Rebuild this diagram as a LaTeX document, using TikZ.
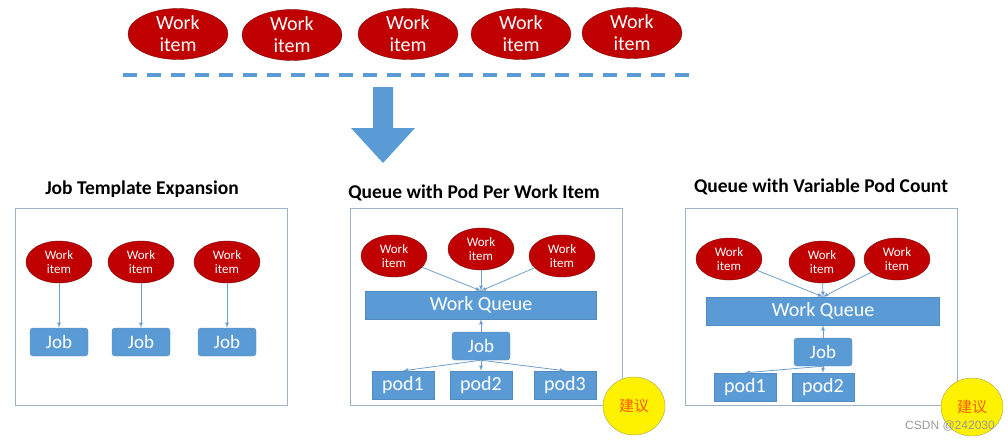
\documentclass[tikz,border=0pt]{standalone}
\usepackage{fontspec}
\setmainfont{Carlito}
\newfontfamily\cjk{Noto Sans CJK SC}
\newfontfamily\wmark{Liberation Sans}
\usetikzlibrary{positioning, shapes}
\definecolor{itemred}{HTML}{C00000}
\definecolor{itemrim}{HTML}{7A0A0A}
\definecolor{boxblue}{HTML}{5B9BD5}
\definecolor{linkblue}{HTML}{6E9ECB}
\definecolor{framegray}{HTML}{9FB3C8}

\begin{document}
\begin{tikzpicture}[x=1pt, y=-1pt, -latex, inner sep=0pt,
      work/.style={ellipse, draw=itemrim, fill=itemred, text=white, align=center,
        minimum width=66pt, minimum height=42pt, font=\fontsize{13}{14.5}\selectfont},
      bigwork/.style={work, minimum width=100pt, minimum height=48pt,
        font=\fontsize{20}{22}\selectfont},
      job/.style={rectangle, rounded corners=3pt, draw=boxblue!90!black, fill=boxblue,
        text=white, minimum width=58pt, minimum height=28pt, font=\fontsize{19}{20}\selectfont},
      queue/.style={rectangle, draw=boxblue!90!black, fill=boxblue, text=white,
        minimum height=28pt, font=\fontsize{20}{20}\selectfont},
      pod/.style={queue, minimum width=62pt},
      panel/.style={rectangle, draw=framegray, minimum width=272pt, minimum height=197pt},
      title/.style={font=\bfseries\fontsize{19.5}{20}\selectfont},
      note/.style={ellipse, draw=yellow!60!black, fill=yellow, text=orange!70!red,
        minimum width=62pt, minimum height=58pt, font=\cjk\fontsize{15}{15}\selectfont},
      every edge/.append style={draw=linkblue, line width=0.8pt}]
      \useasboundingbox (0,0) rectangle (1008,440);
      % work items on top
      \node[bigwork] (t_1) at(178,34) {Work\\item};
      \node[bigwork] (t_2) at(292,35) {Work\\item};
      \node[bigwork] (t_3) at(408,34) {Work\\item};
      \node[bigwork] (t_4) at(521,34) {Work\\item};
      \node[bigwork] (t_5) at(632,33) {Work\\item};
      \draw[-, boxblue, line width=4pt, dash pattern=on 14pt off 10pt] (123,75) -- (690,75);
      \fill[-, boxblue] (373,87) -- (393,87) -- (393,128) -- (415,128) -- (383,163)
        -- (351,128) -- (373,128) -- cycle;
      % job template expansion
      \node[title] (h_1) at(142,189) {Job Template Expansion};
      \node[panel] (f_1) at(151,306.5) {};
      \node[work] (a_1) at(59,262) {Work\\item};
      \node[work] (a_2) at(141,262) {Work\\item};
      \node[work] (a_3) at(227,262) {Work\\item};
      \node[job] (aj_1) at(59,342) {Job};
      \node[job] (aj_2) at(141,342) {Job};
      \node[job] (aj_3) at(227,342) {Job};
      \path (a_1) edge (aj_1);
      \path (a_2) edge (aj_2);
      \path (a_3) edge (aj_3);
      % queue with pod per work item
      \node[title] (h_2) at(474,193) {Queue with Pod Per Work Item};
      \node[panel] (f_2) at(486,307) {};
      \node[work] (b_1) at(394,256) {Work\\item};
      \node[work] (b_2) at(481,249) {Work\\item};
      \node[work] (b_3) at(562,256) {Work\\item};
      \node[queue, minimum width=231pt] (bq) at(481,305) {Work Queue};
      \node[job] (bj) at(481,346) {Job};
      \node[pod] (bp_1) at(403,385) {pod1};
      \node[pod] (bp_2) at(481,385) {pod2};
      \node[pod] (bp_3) at(565,385) {pod3};
      \path (b_1) edge (bq.north);
      \path (b_2) edge (bq.north);
      \path (b_3) edge (bq.north);
      \path (bj) edge (bq);
      \path (bj.south) edge (bp_1.north);
      \path (bj.south) edge (bp_2.north);
      \path (bj.south) edge (bp_3.north);
      \node[note] (n_1) at(634,406) {建议};
      % queue with variable pod count
      \node[title] (h_3) at(821,187) {Queue with Variable Pod Count};
      \node[panel] (f_3) at(821,307) {};
      \node[work] (c_1) at(729,259) {Work\\item};
      \node[work] (c_2) at(822,262) {Work\\item};
      \node[work] (c_3) at(897,259) {Work\\item};
      \node[queue, minimum width=233pt] (cq) at(823,311) {Work Queue};
      \node[job] (cj) at(823,352) {Job};
      \node[pod] (cp_1) at(745,387) {pod1};
      \node[pod] (cp_2) at(823,387) {pod2};
      \path (c_1) edge (cq.north);
      \path (c_2) edge (cq.north);
      \path (c_3) edge (cq.north);
      \path (cj) edge (cq);
      \path (cj.south) edge (cp_1.north);
      \path (cj.south) edge (cp_2.north);
      \node[note] (n_2) at(972,407) {建议};
      \node[text=gray!80, font=\wmark\fontsize{12}{14}\selectfont] (wm) at(950,426) {CSDN @242030};
  \end{tikzpicture}
\end{document}
